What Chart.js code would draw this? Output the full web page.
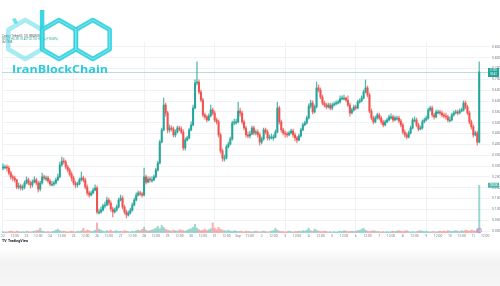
<!DOCTYPE html>
<html lang="en">
<head>
  <meta charset="UTF-8" />
  <title>IranBlockChain - 2h chart</title>
  <script src="https://cdn.jsdelivr.net/npm/chart.js@4.4.1/dist/chart.umd.min.js"></script>
  <style>
    html, body { margin: 0; padding: 0; background: #fff; }
    canvas { display: block; }
  </style>
</head>
<body>
<canvas id="priceChart" width="500" height="286"></canvas>
<script>
  // 2h candles, 22 Aug -> 11 Sep
  const dayLabels = ["22", "23", "24", "25", "26", "27", "28", "29", "30", "31", "Sep",
    "2", "3", "4", "5", "6", "7", "8", "9", "10", "11"];
  const priceTicks = [0.85, 0.8, 0.75, 0.7, 0.65, 0.6, 0.55, 0.5, 0.45, 0.4,
    0.35, 0.3, 0.25, 0.2, 0.15, 0.1, 0.05, 0];
  const futureSlots = 5;
  const firstOpen = 0.291;

  const closes = [
    0.296, 0.296, 0.291, 0.268, 0.250, 0.245, 0.236, 0.203, 0.208, 0.199,
    0.203, 0.222, 0.236, 0.222, 0.213, 0.226, 0.236, 0.222, 0.194, 0.222,
    0.250, 0.245, 0.245, 0.231, 0.217, 0.217,
    0.222, 0.236, 0.250, 0.305, 0.323,
    0.319, 0.296, 0.282, 0.263, 0.245, 0.222, 0.213, 0.217, 0.236, 0.245,
    0.236, 0.203, 0.176, 0.166, 0.176, 0.189, 0.199, 0.088, 0.088, 0.097,
    0.116, 0.120, 0.143, 0.129, 0.102, 0.088, 0.097, 0.111, 0.143, 0.152,
    0.111, 0.088, 0.074, 0.083, 0.097, 0.120, 0.143, 0.166, 0.176, 0.171,
    0.166, 0.250, 0.226, 0.240, 0.236,
    0.236, 0.250, 0.282, 0.314, 0.411, 0.467,
    0.582, 0.545, 0.467, 0.476, 0.471, 0.444, 0.457, 0.476, 0.471, 0.457,
    0.384, 0.420, 0.430, 0.467, 0.490, 0.568, 0.684, 0.688, 0.642, 0.605,
    0.536, 0.527, 0.513, 0.531, 0.559, 0.545, 0.513, 0.504, 0.444, 0.370,
    0.337, 0.337, 0.388, 0.402, 0.425, 0.499, 0.504, 0.504, 0.554, 0.545,
    0.504, 0.476, 0.444, 0.439,
    0.448, 0.476, 0.453, 0.457, 0.444, 0.411, 0.425,
    0.467, 0.457, 0.430, 0.434, 0.434, 0.434, 0.457, 0.568, 0.504, 0.467,
    0.453, 0.448, 0.444, 0.453, 0.462, 0.444, 0.430, 0.420, 0.439, 0.467,
    0.490, 0.499, 0.522, 0.577, 0.591, 0.550, 0.573, 0.661, 0.651, 0.619,
    0.591, 0.582, 0.573, 0.582, 0.568, 0.582, 0.587, 0.591, 0.596, 0.610,
    0.614, 0.614, 0.605,
    0.582, 0.545, 0.559, 0.573, 0.568, 0.596, 0.601, 0.614,
    0.642, 0.661, 0.628, 0.554, 0.522, 0.504, 0.522, 0.536, 0.522, 0.504,
    0.490, 0.504, 0.513, 0.527, 0.527, 0.513, 0.522, 0.522, 0.508, 0.490,
    0.457, 0.444, 0.434, 0.453, 0.476, 0.513, 0.513, 0.490, 0.471, 0.476,
    0.504, 0.513, 0.522, 0.559, 0.568, 0.536, 0.527, 0.550, 0.550, 0.545,
    0.536, 0.531,
    0.527, 0.513, 0.513, 0.536, 0.545, 0.550, 0.545, 0.554, 0.559,
    0.591, 0.573, 0.545, 0.504, 0.481, 0.444, 0.453, 0.411, 0.735
  ];

  const highs = [
    0.310, 0.305, 0.305, 0.300, 0.277, 0.259, 0.254, 0.240, 0.222, 0.217,
    0.213, 0.231, 0.250, 0.245, 0.231, 0.236, 0.250, 0.245, 0.231, 0.231,
    0.268, 0.259, 0.254, 0.254, 0.240, 0.231,
    0.231, 0.245, 0.263, 0.319, 0.342,
    0.337, 0.328, 0.305, 0.291, 0.273, 0.254, 0.231, 0.226, 0.245, 0.273,
    0.254, 0.245, 0.213, 0.185, 0.185, 0.199, 0.213, 0.208, 0.102, 0.111,
    0.125, 0.134, 0.157, 0.152, 0.139, 0.111, 0.106, 0.120, 0.152, 0.166,
    0.162, 0.120, 0.097, 0.092, 0.106, 0.129, 0.152, 0.176, 0.185, 0.185,
    0.180, 0.291, 0.259, 0.250, 0.250,
    0.250, 0.259, 0.291, 0.323, 0.420, 0.476,
    0.614, 0.591, 0.554, 0.490, 0.485, 0.481, 0.467, 0.485, 0.485, 0.481,
    0.467, 0.430, 0.439, 0.476, 0.504, 0.582, 0.698, 0.781, 0.698, 0.651,
    0.614, 0.545, 0.536, 0.541, 0.582, 0.568, 0.554, 0.522, 0.513, 0.453,
    0.379, 0.351, 0.397, 0.411, 0.434, 0.508, 0.517, 0.517, 0.596, 0.568,
    0.554, 0.513, 0.485, 0.457,
    0.462, 0.485, 0.485, 0.467, 0.467, 0.453, 0.434,
    0.476, 0.476, 0.467, 0.444, 0.448, 0.444, 0.467, 0.596, 0.577, 0.513,
    0.476, 0.462, 0.457, 0.462, 0.471, 0.471, 0.453, 0.439, 0.448, 0.476,
    0.499, 0.508, 0.531, 0.587, 0.605, 0.601, 0.582, 0.688, 0.675, 0.661,
    0.628, 0.601, 0.591, 0.591, 0.591, 0.591, 0.596, 0.601, 0.605, 0.624,
    0.624, 0.628, 0.619,
    0.624, 0.591, 0.568, 0.582, 0.582, 0.605, 0.610, 0.624,
    0.651, 0.698, 0.670, 0.637, 0.564, 0.531, 0.531, 0.545, 0.545, 0.531,
    0.513, 0.513, 0.522, 0.536, 0.541, 0.536, 0.531, 0.531, 0.531, 0.517,
    0.499, 0.467, 0.453, 0.462, 0.485, 0.522, 0.527, 0.522, 0.499, 0.485,
    0.513, 0.522, 0.531, 0.568, 0.577, 0.577, 0.545, 0.559, 0.559, 0.559,
    0.554, 0.545,
    0.545, 0.536, 0.527, 0.545, 0.554, 0.559, 0.559, 0.564, 0.568,
    0.601, 0.601, 0.582, 0.554, 0.513, 0.490, 0.462, 0.462, 0.781
  ];

  const lows = [
    0.282, 0.287, 0.277, 0.259, 0.240, 0.231, 0.226, 0.194, 0.194, 0.189,
    0.189, 0.194, 0.217, 0.213, 0.199, 0.203, 0.222, 0.213, 0.180, 0.185,
    0.217, 0.236, 0.231, 0.222, 0.208, 0.208,
    0.208, 0.217, 0.231, 0.245, 0.300,
    0.310, 0.287, 0.273, 0.254, 0.231, 0.213, 0.199, 0.203, 0.213, 0.231,
    0.226, 0.194, 0.166, 0.157, 0.162, 0.171, 0.185, 0.079, 0.079, 0.083,
    0.092, 0.106, 0.116, 0.120, 0.092, 0.065, 0.083, 0.092, 0.106, 0.139,
    0.102, 0.079, 0.060, 0.069, 0.079, 0.092, 0.116, 0.139, 0.162, 0.162,
    0.157, 0.162, 0.217, 0.222, 0.226,
    0.226, 0.231, 0.245, 0.277, 0.310, 0.407,
    0.462, 0.531, 0.453, 0.457, 0.462, 0.434, 0.434, 0.453, 0.462, 0.448,
    0.374, 0.374, 0.416, 0.425, 0.462, 0.485, 0.564, 0.675, 0.633, 0.596,
    0.527, 0.517, 0.504, 0.508, 0.527, 0.536, 0.504, 0.494, 0.434, 0.360,
    0.323, 0.323, 0.333, 0.384, 0.397, 0.420, 0.490, 0.494, 0.499, 0.531,
    0.494, 0.467, 0.434, 0.430,
    0.430, 0.444, 0.444, 0.444, 0.434, 0.397, 0.402,
    0.420, 0.448, 0.420, 0.420, 0.425, 0.420, 0.430, 0.453, 0.494, 0.457,
    0.444, 0.434, 0.434, 0.439, 0.448, 0.434, 0.416, 0.407, 0.416, 0.434,
    0.462, 0.485, 0.494, 0.517, 0.568, 0.541, 0.545, 0.568, 0.642, 0.610,
    0.582, 0.573, 0.564, 0.568, 0.559, 0.559, 0.577, 0.582, 0.587, 0.591,
    0.605, 0.605, 0.596,
    0.573, 0.531, 0.541, 0.554, 0.559, 0.564, 0.591, 0.596,
    0.610, 0.637, 0.619, 0.545, 0.513, 0.494, 0.499, 0.517, 0.513, 0.494,
    0.481, 0.485, 0.499, 0.508, 0.517, 0.504, 0.508, 0.513, 0.499, 0.481,
    0.448, 0.434, 0.425, 0.430, 0.448, 0.471, 0.504, 0.481, 0.462, 0.467,
    0.471, 0.499, 0.508, 0.517, 0.554, 0.527, 0.517, 0.522, 0.541, 0.536,
    0.527, 0.522,
    0.517, 0.504, 0.504, 0.508, 0.531, 0.541, 0.536, 0.541, 0.550,
    0.554, 0.564, 0.536, 0.494, 0.471, 0.434, 0.439, 0.397, 0.407
  ];

  // volume, thousands
  const volumes = [
    3, 2, 2, 3, 4, 3, 2, 4, 3, 2,
    3, 2, 4, 3, 2, 3, 4, 5, 6, 10,
    4, 3, 2, 3, 2, 3, 4, 6, 8, 5,
    3, 4, 3, 2, 3, 4, 3, 2, 4, 3,
    5, 10, 4, 6, 5, 3, 4, 6, 21, 8,
    6, 4, 3, 5, 4, 6, 3, 4, 5, 3,
    4, 3, 5, 4, 3, 2, 4, 3, 5, 6,
    5, 8, 12, 6, 4, 5, 6, 8, 10, 14,
    9, 16, 12, 8, 6, 5, 4, 6, 5, 4,
    7, 6, 5, 4, 6, 8, 9, 12, 18, 10,
    7, 5, 6, 8, 5, 7, 9, 21, 10, 7,
    12, 8, 6, 5, 4, 6, 4, 3, 5, 4,
    3, 4, 3, 2, 4, 3, 3, 2, 3, 4,
    3, 2, 3, 4, 3, 2, 3, 4, 5, 10,
    6, 4, 3, 3, 2, 3, 4, 3, 2, 3,
    3, 4, 3, 5, 4, 6, 10, 5, 4, 8,
    6, 4, 3, 3, 4, 3, 2, 3, 2, 3,
    2, 3, 4, 3, 5, 4, 3, 3, 4, 3,
    4, 5, 6, 8, 10, 6, 4, 3, 4, 5,
    4, 3, 3, 2, 3, 2, 3, 2, 3, 4,
    3, 4, 5, 4, 3, 4, 5, 3, 2, 3,
    2, 3, 4, 5, 4, 3, 4, 3, 2, 3,
    3, 2, 3, 4, 3, 4, 3, 5, 4, 3,
    4, 5, 4, 3, 5, 4, 6, 5, 4, 6,
    5, 4, 8, 100
  ];

  const upColor = "#26a69a";
  const downColor = "#ef5350";
  const gridColor = "#f0f2f6";
  const textColor = "#7b7e88";

  const opens = closes.map((c, i) => (i === 0 ? firstOpen : closes[i - 1]));
  const candleColors = closes.map((c, i) => (c >= opens[i] ? upColor : downColor));
  const wickColors = closes.map((c, i) => (c >= opens[i] ? "rgba(38,166,154,0.8)" : "rgba(239,83,80,0.75)"));
  const volColors = closes.map((c, i) => (c >= opens[i] ? "rgba(38,166,154,0.45)" : "rgba(239,83,80,0.45)"));

  const categories = [];
  for (let i = 0; i < closes.length + futureSlots; i++) {
    const h = i * 2;
    const d = Math.floor(h / 24);
    categories.push(h % 24 === 0 ? dayLabels[d] : h % 24 === 12 ? "12:00" : "");
  }

  function hexPath(ctx, cx, cy, r) {
    ctx.beginPath();
    for (let k = 0; k < 6; k++) {
      const ang = (Math.PI / 3) * k - Math.PI / 2;
      const px = cx + r * Math.cos(ang), py = cy + r * Math.sin(ang);
      if (k === 0) ctx.moveTo(px, py); else ctx.lineTo(px, py);
    }
    ctx.closePath();
  }

  const decor = {
    id: "decor",
    beforeDraw(chart) {
      const { ctx, width, height } = chart;
      ctx.save();
      ctx.fillStyle = "#fff";
      ctx.fillRect(0, 0, width, height);
      const g = ctx.createLinearGradient(0, 248, 0, 286);
      g.addColorStop(0, "#ffffff");
      g.addColorStop(0.4, "#f2f2f2");
      g.addColorStop(1, "#f6f6f6");
      ctx.fillStyle = g;
      ctx.fillRect(0, 248, width, height - 248);
      ctx.restore();
    },
    afterDatasetsDraw(chart) {
      const { ctx, chartArea: a, scales } = chart;
      const last = closes.length - 1;
      const py = Math.round(scales.y.getPixelForValue(closes[last])) + 0.5;
      ctx.save();

      // last price line + tag
      ctx.strokeStyle = "rgba(38,166,154,0.35)";
      ctx.lineWidth = 1;
      ctx.beginPath();
      ctx.moveTo(a.left, py);
      ctx.lineTo(a.right, py);
      ctx.stroke();
      ctx.fillStyle = upColor;
      ctx.fillRect(a.right - 2, py - 4.5, 11, 9);
      ctx.fillStyle = "#fff";
      ctx.font = "2.6px Roboto";
      ctx.textAlign = "center";
      ctx.textBaseline = "middle";
      ctx.fillText(closes[last].toFixed(3), a.right + 3.5, py - 1.8);
      ctx.fillText("00:41", a.right + 3.5, py + 1.8);

      // volume tag
      const vy = scales.yVol.getPixelForValue(volumes[last]);
      ctx.fillStyle = "#4fb9ad";
      ctx.fillRect(a.right - 2, vy - 2.5, 11, 5);
      ctx.fillStyle = "#fff";
      ctx.fillText(volumes[last].toFixed(1) + "K", a.right + 3.5, vy);

      // event marker under last candle
      const mx = scales.x.getPixelForValue(last);
      ctx.beginPath();
      ctx.arc(mx, a.bottom - 2.5, 2.4, 0, Math.PI * 2);
      ctx.fillStyle = "rgba(206,147,216,0.45)";
      ctx.fill();
      ctx.strokeStyle = "#c17fd6";
      ctx.lineWidth = 0.6;
      ctx.stroke();

      // legend
      ctx.textAlign = "left";
      ctx.textBaseline = "middle";
      ctx.font = "2.6px Roboto";
      ctx.fillStyle = "#50535e";
      ctx.fillText("Crypto / TetherUS, 120, BINANCE", 2, 36);
      ctx.fillText("O", 2, 39.5);
      ctx.fillStyle = upColor;
      ctx.fillText("0.411 H0.781 L0.407 C0.735 +0.324 (+78.83%)", 4, 39.5);
      ctx.fillStyle = "#50535e";
      ctx.fillText("Vol 100K", 2, 42.5);

      // TradingView mark
      ctx.fillStyle = "#131722";
      ctx.font = "bold 3.6px Roboto";
      ctx.fillText("TV", 2, 241.5);
      ctx.fillText("TradingView", 8, 241.5);

      // IranBlockChain logo
      const cyan = "rgba(40,208,222,0.9)";
      const r = 19.5;
      const hw = r * Math.sqrt(3) / 2;
      const cy = 39.5, c2 = 59, c1 = c2 - 2 * hw, c3 = c2 + 2 * hw;
      ctx.lineJoin = "round";
      ctx.lineWidth = 4.5;
      ctx.strokeStyle = "rgba(43,210,224,0.42)";
      hexPath(ctx, c1, cy, r);
      ctx.stroke();
      ctx.fillStyle = "rgba(43,210,224,0.65)";
      ctx.beginPath();
      ctx.moveTo(12, 19); ctx.lineTo(15.5, 18); ctx.lineTo(18, 23); ctx.lineTo(14.5, 24);
      ctx.closePath();
      ctx.fill();
      ctx.strokeStyle = cyan;
      hexPath(ctx, c2, cy, r);
      ctx.stroke();
      hexPath(ctx, c3, cy, r);
      ctx.stroke();
      ctx.beginPath();
      ctx.moveTo(c2 - hw, 10);
      ctx.lineTo(c2 - hw, cy + r / 2);
      ctx.stroke();
      ctx.lineWidth = 0.7;
      ctx.strokeStyle = "rgba(255,255,255,0.5)";
      hexPath(ctx, c2, cy, r);
      ctx.stroke();
      hexPath(ctx, c3, cy, r);
      ctx.stroke();

      ctx.fillStyle = "#2bcadc";
      ctx.font = "bold 12px 'Open Sans'";
      ctx.textBaseline = "alphabetic";
      const word = "IranBlockChain";
      const w = ctx.measureText(word).width;
      ctx.translate(12, 72.5);
      ctx.scale(96 / w, 0.95);
      ctx.fillText(word, 0, 0);
      ctx.restore();
    }
  };

  const config = {
    type: "bar",
    data: {
      labels: categories,
      datasets: [
        {
          label: "wick",
          data: closes.map((c, i) => [lows[i], highs[i]]),
          backgroundColor: wickColors,
          barThickness: 0.6,
          grouped: false,
          order: 3
        },
        {
          label: "body",
          data: closes.map((c, i) => [opens[i], c]),
          backgroundColor: candleColors,
          barThickness: 1.4,
          minBarLength: 1,
          grouped: false,
          order: 2
        },
        {
          label: "volume",
          data: volumes,
          yAxisID: "yVol",
          backgroundColor: volColors,
          barThickness: 1.4,
          grouped: false,
          order: 4
        }
      ]
    },
    options: {
      responsive: false,
      animation: false,
      devicePixelRatio: 1,
      layout: { padding: { top: 42, left: 2, right: 0, bottom: 47 } },
      plugins: {
        legend: { display: false },
        tooltip: { enabled: false }
      },
      scales: {
        x: {
          type: "category",
          offset: true,
          border: { display: false },
          grid: {
            offset: false,
            drawTicks: false,
            color: (c) => (categories[c.index] ? gridColor : "rgba(0,0,0,0)")
          },
          ticks: {
            autoSkip: false,
            maxRotation: 0,
            padding: 1,
            color: textColor,
            font: { size: 3.4, family: "Roboto" },
            callback: function (v) {
              const l = categories[v];
              return l ? l : null;
            }
          },
          afterFit: (s) => { s.height = 6; }
        },
        y: {
          position: "right",
          min: -0.009,
          max: 0.873,
          border: { display: false },
          grid: { color: gridColor, drawTicks: false },
          afterBuildTicks: (s) => { s.ticks = priceTicks.map((v) => ({ value: v })); },
          ticks: {
            padding: 2,
            color: textColor,
            font: { size: 3.4, family: "Roboto" },
            callback: (v) => Number(v).toFixed(3)
          },
          afterFit: (s) => { s.width = 10; }
        },
        yVol: {
          display: false,
          min: 0,
          max: 400
        }
      }
    },
    plugins: [decor]
  };

  const priceChart = new Chart(document.getElementById("priceChart"), config);
</script>
</body>
</html>
